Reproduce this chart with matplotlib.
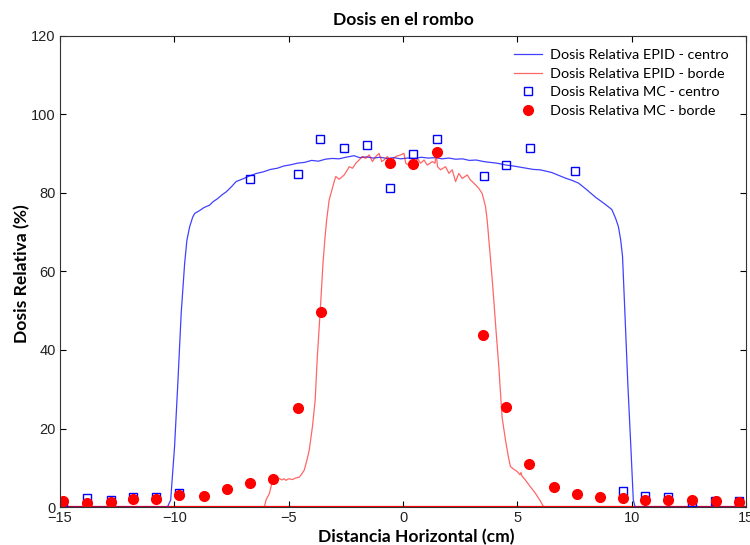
import matplotlib
matplotlib.use("Agg")
import matplotlib.pyplot as plt

# EPID profile, centre row
epid_centro_x = [-15, -10.3, -10.16, -9.99, -9.84, -9.7, -9.55, -9.45, -9.33, -9.2, -9.11, -8.9, -8.7,
                 -8.46, -8.3, -8.1, -7.9, -7.73, -7.5, -7.3, -7.0, -6.69, -6.4, -6.1, -5.8, -5.5, -5.2,
                 -4.9, -4.61, -4.3, -4.0, -3.7, -3.4, -3.1, -2.8, -2.5, -2.14, -1.9, -1.6, -1.3, -1.0,
                 -0.7, -0.4, -0.1, 0.2, 0.5, 0.8, 1.1, 1.43, 1.7, 2.0, 2.3, 2.6, 2.9, 3.2, 3.53, 3.8,
                 4.1, 4.52, 4.8, 5.1, 5.4, 5.7, 6.0, 6.3, 6.51, 6.8, 7.1, 7.4, 7.68, 8.0, 8.4, 8.8,
                 9.13, 9.3, 9.42, 9.52, 9.6, 9.71, 9.83, 9.97, 10.07, 10.15, 15]
epid_centro_y = [0, 0, 1.8, 15.4, 32.4, 49.4, 62, 68, 71.4, 73.8, 74.8, 75.5, 76.3,
                 76.9, 77.8, 78.6, 79.6, 80.3, 81.6, 82.9, 83.6, 84.4, 85.0, 85.4, 86.0, 86.3, 86.9,
                 87.2, 87.6, 87.8, 88.3, 88.1, 88.6, 88.8, 88.7, 89.1, 89.5, 89.0, 89.2, 88.9, 89.1,
                 88.8, 89.0, 88.7, 88.9, 88.8, 89.1, 88.9, 89.0, 88.7, 88.9, 88.6, 88.7, 88.3, 88.4, 88.0, 87.8,
                 87.6, 87.1, 86.9, 86.6, 86.3, 86.0, 85.9, 85.5, 85.2, 84.5, 83.8, 83.2, 82.5, 81.0, 79.0, 77.3,
                 75.8, 73.5, 71.4, 68, 63.8, 48.5, 31.5, 14.5, 1.8, 0, 0]

# EPID profile, edge row
epid_borde_x = [-15, -6.06, -5.99, -5.84, -5.7, -5.6, -5.5, -5.41, -5.3, -5.2, -5.12, -5.0, -4.83, -4.7,
                -4.54, -4.43, -4.32, -4.2, -4.1, -3.96, -3.84, -3.75, -3.62, -3.5, -3.42, -3.34, -3.23,
                -3.01, -2.94, -2.79, -2.57, -2.43, -2.35, -2.21, -2.06, -1.92, -1.77, -1.63, -1.48, -1.34,
                -1.19, -1.05, -0.93, -0.83, -0.68, -0.54, -0.32, -0.10, 0.04, 0.12, 0.33, 0.48, 0.63, 0.77,
                0.92, 1.06, 1.28, 1.40, 1.45, 1.51, 1.64, 1.86, 2.01, 2.15, 2.30, 2.44, 2.59, 2.81, 2.95,
                3.10, 3.31, 3.46, 3.61, 3.68, 3.8, 3.9, 3.97, 4.08, 4.19, 4.33, 4.48, 4.6, 4.7, 4.85, 5.0,
                5.06, 5.12, 5.16, 5.2, 5.35, 5.55, 5.79, 6.0, 6.15, 15]
epid_borde_y = [0, 0, 1.8, 3.5, 6.9, 7.4, 7.0, 7.3, 6.9, 7.2, 6.8, 7.2, 7.0, 7.4,
                7.6, 8.4, 9.4, 12, 14.5, 20.5, 27.3, 38, 50, 62, 68, 73.1, 78.2,
                82.9, 84.2, 83.5, 84.6, 85.9, 86.7, 86.3, 87.6, 88.4, 89.3, 88.8, 89.7, 88.0,
                89.3, 90.1, 88.0, 88.4, 89.3, 88.0, 89.3, 89.7, 90.1, 87.6, 86.7, 87.1, 88.8, 87.6,
                88.4, 87.1, 88.0, 87.6, 90.1, 86.7, 85.9, 86.7, 85.0, 85.9, 82.9, 85.0, 83.7, 84.6, 83.3,
                82.5, 81.2, 79.9, 76.5, 73.1, 65, 58, 52.7, 44, 35.7, 23, 17.1, 13, 10.3, 9.6, 9.0,
                8.6, 8.2, 8.8, 7.9, 6.9, 5.3, 3.5, 1.6, 0, 0]

# Monte Carlo, centre row
mc_centro_x = [-14.87, -13.8, -12.75, -11.8, -10.8, -9.8, -6.69, -4.61, -3.63, -2.60, -1.58,
               -0.55, 0.45, 1.47, 3.53, 4.52, 5.54, 7.5, 9.6, 10.6, 11.6, 12.65, 13.65, 14.7]
mc_centro_y = [1.0, 2.3, 1.8, 2.5, 2.5, 3.6, 83.5, 84.9, 93.8, 91.5, 92.2,
               81.3, 89.9, 93.8, 84.3, 87.1, 91.5, 85.6, 4.0, 2.8, 2.5, 1.3, 1.5, 1.5]

# Monte Carlo, edge row
mc_borde_x = [-14.87, -13.8, -12.75, -11.8, -10.8, -9.8, -8.7, -7.7, -6.7, -5.7, -4.6, -3.6,
              -0.55, 0.45, 1.47, 3.5, 4.5, 5.5, 6.6, 7.6, 8.6, 9.6, 10.6, 11.6, 12.65, 13.7, 14.7]
mc_borde_y = [1.5, 1.0, 1.3, 2.0, 2.0, 3.0, 2.8, 4.6, 6.1, 7.1, 25.2, 49.7,
              87.7, 87.3, 90.5, 43.8, 25.5, 11.0, 5.1, 3.3, 2.6, 2.3, 1.7, 1.7, 1.8, 1.5, 1.3]

x_ticks = [-15, -10, -5, 0, 5, 10, 15]
y_ticks = [0, 20, 40, 60, 80, 100, 120]

label_font = ["Lato", "DejaVu Sans"]
tick_font = ["Liberation Sans", "DejaVu Sans"]

fig = plt.figure(figsize=(7.5, 5.45), dpi=100)
ax = fig.add_axes([0.08, 0.0697, 0.9147, 0.8643])

ax.plot(epid_centro_x, epid_centro_y, color="#0000ff", lw=0.9, alpha=0.75,
        label="Dosis Relativa EPID - centro")
ax.plot(epid_borde_x, epid_borde_y, color="#ff0000", lw=0.9, alpha=0.6,
        label="Dosis Relativa EPID - borde")
ax.plot(mc_centro_x, mc_centro_y, ls="none", marker="s", ms=5.5, mfc="none",
        mec="#0000ff", mew=1.0, label="Dosis Relativa MC - centro")
ax.plot(mc_borde_x, mc_borde_y, ls="none", marker="o", ms=7, mfc="#ff0000",
        mec="#ff0000", label="Dosis Relativa MC - borde")
ax.axhline(0, color="#ff0000", lw=1.6, zorder=1)

ax.set_xlim(-15, 15)
ax.set_ylim(0, 120)
ax.set_xticks(x_ticks)
ax.set_yticks(y_ticks)
ax.tick_params(direction="in", top=True, right=True, length=4, width=0.8)
ax.tick_params(axis="x", pad=3)
ax.tick_params(axis="y", pad=3)
for lab in ax.get_xticklabels() + ax.get_yticklabels():
    lab.set_family(tick_font)
    lab.set_fontsize(10.5)
    lab.set_color("#222222")
for sp in ax.spines.values():
    sp.set_linewidth(0.8)
    sp.set_color("#333333")

ax.set_title("Dosis en el rombo", family=label_font, fontweight="bold", fontsize=12.6, pad=8)
ax.set_xlabel("Distancia Horizontal (cm)", family=label_font, fontweight="bold", fontsize=12.6)
ax.xaxis.set_label_coords(0.519, -0.0475)
ax.set_ylabel("Dosis Relativa (%)", family=label_font, fontweight="bold", fontsize=12.6)
ax.yaxis.set_label_coords(-0.043, 0.495)

leg = ax.legend(loc="upper right", frameon=False, prop={"family": label_font, "size": 10.4},
                handlelength=1.95, handletextpad=0.6, labelspacing=0.44,
                borderaxespad=0.3, bbox_to_anchor=(0.99, 0.993))

fig.savefig("out.png", dpi=100)
